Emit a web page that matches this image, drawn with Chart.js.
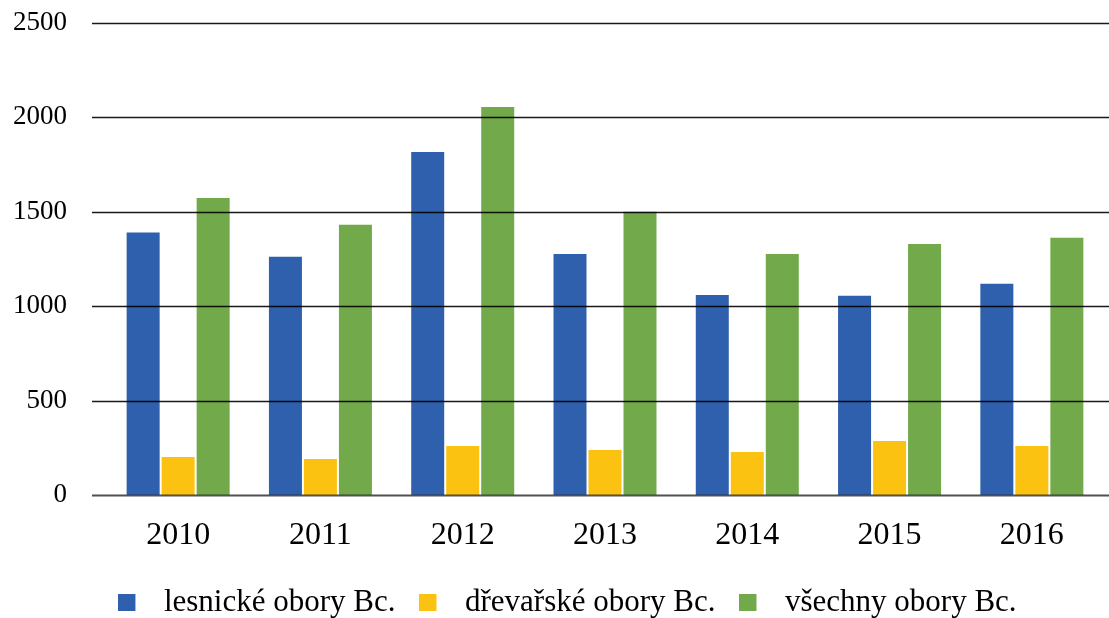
<!DOCTYPE html>
<html>
<head>
<meta charset="utf-8">
<script src="https://cdn.jsdelivr.net/npm/chart.js@4/dist/chart.umd.min.js"></script>
<style>
  html, body { margin: 0; padding: 0; background: #fff; }
  canvas { display: block; }
</style>
</head>
<body>
<canvas id="myChart" width="1109" height="618"></canvas>
<script>
let years = ['2010', '2011', '2012', '2013', '2014', '2015', '2016'];
let seriesNames = ['lesnické obory Bc.', 'dřevařské obory Bc.', 'všechny obory Bc.'];
let lesnicke = [1390, 1262, 1817, 1277, 1059, 1055, 1119];
let drevarske = [201, 191, 260, 238, 228, 286, 260];
let vsechny = [1573, 1431, 2055, 1500, 1277, 1330, 1362];
let colorHex = ['#2E60AD', '#FCC211', '#72A94A'];
let yTicks = [0, 500, 1000, 1500, 2000, 2500];

let fontFamily = "'Liberation Serif', 'Times New Roman', serif";

// legend swatch: square on the left, empty space after it
function swatch(color) {
  let c = document.createElement('canvas');
  c.width = 30;
  c.height = 17;
  let g = c.getContext('2d');
  g.fillStyle = color;
  g.fillRect(0, 0, 17, 17);
  return c;
}
let swatches = colorHex.map(swatch);

let layoutPlugin = {
  id: 'tweaks',
  afterInit(chart) {
    // keep the legend short so its text sits low, near the bottom edge
    let lg = chart.legend;
    let fit = lg.fit.bind(lg);
    lg.fit = function () {
      fit();
      this.height = 55;
    };
  },
  afterLayout(chart) {
    // legend in the picture is a bit right of centre
    chart.legend.left += 16;
    chart.legend.right += 16;
  },
  // horizontal grid lines, a bit wider than the category area and over the bars
  afterDatasetsDraw(chart) {
    let y = chart.scales.y;
    let c = chart.ctx;
    c.save();
    yTicks.forEach(v => {
      let py = Math.round(y.getPixelForValue(v)) + 0.5;
      c.strokeStyle = v === 0 ? 'rgba(50,50,50,0.85)' : 'rgba(0,0,0,0.9)';
      c.lineWidth = v === 0 ? 2 : 1.4;
      c.beginPath();
      c.moveTo(92, py);
      c.lineTo(chart.width, py);
      c.stroke();
    });
    c.restore();
  }
};

let ctx = document.getElementById('myChart').getContext('2d');
let myChart = new Chart(ctx, {
  type: 'bar',
  data: {
    labels: years,
    datasets: [
      { label: seriesNames[0], data: lesnicke, backgroundColor: colorHex[0] },
      { label: seriesNames[1], data: drevarske, backgroundColor: colorHex[1] },
      { label: seriesNames[2], data: vsechny, backgroundColor: colorHex[2] }
    ]
  },
  plugins: [layoutPlugin],
  options: {
    responsive: false,
    animation: false,
    devicePixelRatio: 1,
    categoryPercentage: 0.738,
    barPercentage: 0.943,
    layout: {
      padding: { left: 0, right: 6, top: 23, bottom: 0 }
    },
    scales: {
      x: {
        grid: { display: false },
        border: { display: false },
        ticks: {
          color: '#000',
          padding: 13,
          font: { family: fontFamily, size: 32 }
        },
        afterFit(scale) { scale.height = 68; }
      },
      y: {
        min: 0,
        max: 2500,
        grid: { display: false, drawTicks: false },
        border: { display: false },
        ticks: {
          stepSize: 500,
          color: '#000',
          padding: 40,
          font: { family: fontFamily, size: 27 },
          callback: v => String(v)
        },
        afterFit(scale) {
          scale.width = 107;
          scale.paddingTop = 0;
          scale.paddingBottom = 0;
        }
      }
    },
    plugins: {
      tooltip: { enabled: false },
      legend: {
        position: 'bottom',
        labels: {
          usePointStyle: true,
          pointStyleWidth: 30,
          boxHeight: 17,
          padding: 24,
          color: '#000',
          font: { family: fontFamily, size: 31 },
          generateLabels(chart) {
            let items = Chart.defaults.plugins.legend.labels.generateLabels(chart);
            return items.map(item => Object.assign(item, { pointStyle: swatches[item.datasetIndex] }));
          }
        }
      }
    }
  }
});
</script>
</body>
</html>
